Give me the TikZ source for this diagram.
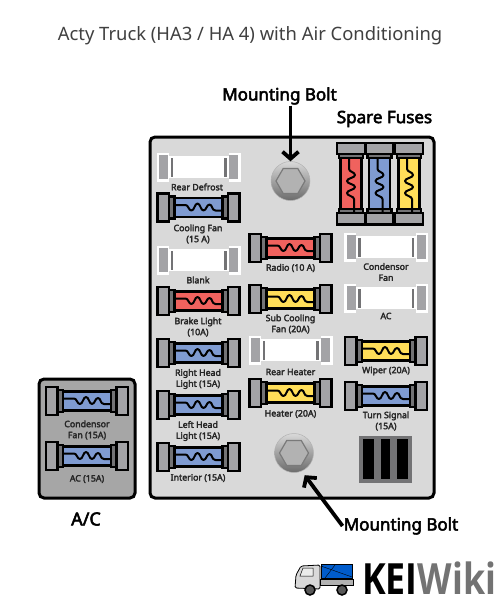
\documentclass[tikz,border=0pt]{standalone}
\usepackage{fontspec}
\setmainfont[AutoFakeBold=3]{Noto Sans}
\newfontfamily\logofont[FakeStretch=0.83]{Open Sans}
\usetikzlibrary{arrows.meta,shapes.geometric}
\definecolor{fred}{HTML}{F0625E}
\definecolor{fblue}{HTML}{7F9BD1}
\definecolor{fyel}{HTML}{FFDE59}
\definecolor{capg}{HTML}{A3A3A6}
\definecolor{neck}{HTML}{737375}
\definecolor{panel}{HTML}{D9D9D9}
\definecolor{acbox}{HTML}{A6A6A6}
\tikzset{
  x=1pt,y=-1pt,
  lab/.style={font=\fontsize{8.8}{11}\selectfont\bfseries,align=center,text=black!85,inner sep=0pt},
  big/.style={font=\fontsize{17}{20}\selectfont\bfseries,text=black,inner sep=1pt},
  pointer/.style={draw=black,line width=3.8pt,-{Straight Barb[length=7pt,width=16pt,line width=3.8pt]}},
  bolt/.style={circle,minimum size=39pt,inner sep=0pt,top color=black!15,bottom color=black!58,draw=black!30,line width=.5pt},
  hexa/.style={regular polygon,regular polygon sides=6,draw=black!52,fill=black!30,line width=1.2pt,minimum size=29pt,inner sep=0pt},
  pics/fuse/.style={code={
    \filldraw[fill=#1,draw=black,line width=2.2pt] (-25,-9.5) rectangle (25,9.5);
    \filldraw[fill=neck,draw=black,line width=2.2pt] (-29.5,-11) rectangle (-24,11);
    \filldraw[fill=neck,draw=black,line width=2.2pt] (24,-11) rectangle (29.5,11);
    \filldraw[fill=capg,draw=black,line width=2.2pt] (-41,-14) rectangle (-29.5,14);
    \filldraw[fill=capg,draw=black,line width=2.2pt] (29.5,-14) rectangle (41,14);
    \draw[black,line width=2pt,line join=round] (-24,-2.5) -- (-13,-2.5) .. controls (-10,-2.5) and (-10,3) .. (-7,3)
      .. controls (-4,3) and (-4,-4) .. (-1,-4) .. controls (2,-4) and (2,3) .. (5,3)
      .. controls (8,3) and (8,-3) .. (11,-3) .. controls (14,-3) and (13,3) .. (17,3) -- (24,3);
  }},
  pics/blank/.style={code={
    \fill[white] (-42,-14.5) rectangle (42,14.5);
    \fill[panel] (-30,-14.5) rectangle (30,-11);
    \fill[panel] (-30,11) rectangle (30,14.5);
    \fill[capg] (-39.5,-12) rectangle (-30.5,12);
    \fill[capg] (30.5,-12) rectangle (39.5,12);
    \fill[neck] (-28,-9.5) rectangle (-25.5,9.5);
    \fill[neck] (25.5,-9.5) rectangle (28,9.5);
  }},
  pics/spare/.style={code={
    \filldraw[fill=#1,draw=black,line width=2.2pt] (-10.5,15) rectangle (10.5,70);
    \filldraw[fill=neck,draw=black,line width=2.2pt] (-12,11) rectangle (12,15);
    \filldraw[fill=neck,draw=black,line width=2.2pt] (-12,66) rectangle (12,70);
    \filldraw[fill=capg,draw=black,line width=2.2pt] (-14,0) rectangle (14,11);
    \filldraw[fill=capg,draw=black,line width=2.2pt] (-14,70) rectangle (14,81.5);
    \draw[black,line width=2pt,line join=round] (-2,15) -- (-2,26) .. controls (-2,29) and (4,29) .. (4,32)
      .. controls (4,35) and (-4,35) .. (-4,38) .. controls (-4,41) and (4,41) .. (4,44)
      .. controls (4,47) and (-4,47) .. (-4,50) .. controls (-4,53) and (3,53) .. (3,56) -- (3,70);
  }},
}
\begin{document}
\begin{tikzpicture}
\useasboundingbox (0,0) rectangle (500,600);
\fill[white] (0,0) rectangle (500,600);
\node[font=\fontsize{18.4}{22}\selectfont,text=black!75,inner sep=0pt] (title) at (250,36) {Acty Truck (HA3 / HA 4) with Air Conditioning};
% panels
\filldraw[fill=panel,draw=black,line width=3pt,rounded corners=5pt] (150,137) rectangle (434,498);
\filldraw[fill=acbox,draw=black,line width=3pt,rounded corners=5pt] (39,379) rectangle (135,498);
% left column
\pic at (198.5,167) {blank};
\node[lab] (l1) at (197,187) {Rear Defrost};
\pic at (198.5,207.5) {fuse=fblue};
\node[lab] (l2) at (198,234) {Cooling Fan\\(15 A)};
\pic at (198.5,260) {blank};
\node[lab] (l3) at (198,280) {Blank};
\pic at (198.5,301) {fuse=fred};
\node[lab] (l4) at (198,327) {Brake Light\\(10A)};
\pic at (198.5,353) {fuse=fblue};
\node[lab] (l5) at (198,379) {Right Head\\Light (15A)};
\pic at (198.5,405) {fuse=fblue};
\node[lab] (l6) at (198,431) {Left Head\\Light (15A)};
\pic at (198.5,457) {fuse=fblue};
\node[lab] (l7) at (198,478) {Interior (15A)};
% middle column
\pic at (290.5,248) {fuse=fred};
\node[lab] (m1) at (290.5,268) {Radio (10 A)};
\pic at (290.5,299) {fuse=fyel};
\node[lab] (m2) at (290.5,324) {Sub Cooling\\Fan (20A)};
\pic at (290.5,350) {blank};
\node[lab] (m3) at (290.5,372) {Rear Heater};
\pic at (290.5,393) {fuse=fyel};
\node[lab] (m4) at (290.5,414) {Heater (20A)};
% right column
\pic at (386,247) {blank};
\node[lab] (r1) at (386,272) {Condensor\\Fan};
\pic at (386,298) {blank};
\node[lab] (r2) at (386,316) {AC};
\pic at (386,351) {fuse=fyel};
\node[lab] (r3) at (386,371) {Wiper (20A)};
\pic at (386,396) {fuse=fblue};
\node[lab] (r4) at (386,421) {Turn Signal\\(15A)};
% spare
\pic at (351,143) {spare=fred};
\pic at (379.5,143) {spare=fblue};
\pic at (409,143) {spare=fyel};
\node[big] (spare) at (384.5,119) {Spare Fuses};
% labels, arrows, bolts
\node[big] (mb1) at (279.5,96) {Mounting Bolt};
\node[big] (mb2) at (401,526) {Mounting Bolt};
\node[bolt] (bolt1) at (290.5,181) {};
\node[hexa] (hex1) at (290.5,181) {};
\node[bolt] (bolt2) at (294,453) {};
\node[hexa] (hex2) at (294,453) {};
\draw[pointer] (mb1.south -| bolt1) -- (bolt1.north);
\draw[pointer,shorten >=5pt] (mb2.west) -- (bolt2.-67);
% grille
\fill[neck] (359,436) rectangle (412,483);
\fill[black] (363,439) rectangle (374,479);
\fill[black] (381,439) rectangle (390,479);
\fill[black] (397,439) rectangle (408,479);
% A/C
\pic at (87,401) {fuse=fblue};
\node[lab] (a1) at (87,430) {Condensor\\Fan (15A)};
\pic at (87,456) {fuse=fblue};
\node[lab] (a2) at (87,479) {AC (15A)};
\node[big,font=\fontsize{18}{20}\selectfont\bfseries] (ac) at (86,519) {A/C};
% logo
\filldraw[fill=black!15,draw=black,line width=.8pt,rounded corners=1.5pt] (295,588) -- (296,575) -- (301,566) -- (320,565) -- (320,589) -- cycle;
\filldraw[fill=green!8!black!8,draw=black,line width=.5pt] (300,576) -- (303,568) -- (313,568) -- (313,576) -- cycle;
\filldraw[fill=black!30,draw=black,line width=.8pt] (320,579) rectangle (353,585);
\filldraw[fill=blue!55!cyan!80!black,draw=black,line width=.8pt] (321,564.5) rectangle (352,578.5);
\draw[black,line width=.4pt] (321,566) -- (352,577);
\draw[black,line width=.4pt] (335,565) -- (325,578);
\filldraw[fill=black!65,draw=black,line width=1.5pt] (310,590) circle (5);
\filldraw[fill=black!65,draw=black,line width=1.5pt] (342,590) circle (5);
\node[inner sep=0pt,anchor=base west,font=\fontsize{43}{43}\selectfont\logofont\bfseries] (kei) at (362,594) {\textcolor{black}{KEI}\textcolor{black!55}{Wiki}};
\end{tikzpicture}
\end{document}
